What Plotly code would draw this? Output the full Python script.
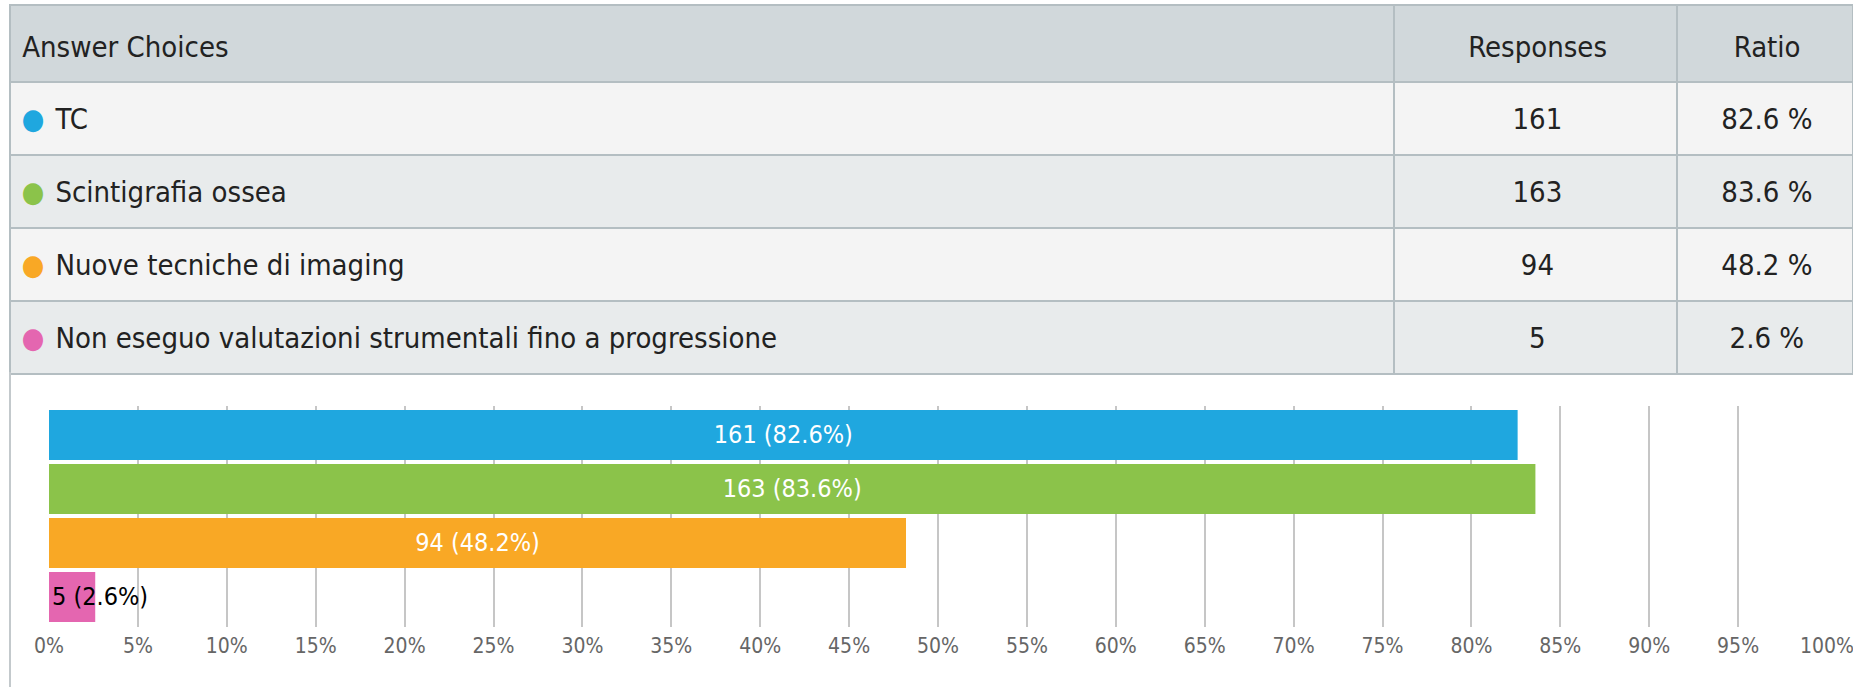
import plotly.graph_objects as go

# ---- data ----
choices = ["TC", "Scintigrafia ossea", "Nuove tecniche di imaging",
           "Non eseguo valutazioni strumentali fino a progressione"]
responses = [161, 163, 94, 5]
ratios = [82.6, 83.6, 48.2, 2.6]
header_labels = ["Answer Choices", "Responses", "Ratio"]
x_ticks = list(range(0, 101, 5))

# ---- styles ----
bar_colors = ["#1fa7df", "#8bc34a", "#f9a825", "#e466b0"]
label_colors = ["white", "white", "white", "black"]
label_anchor = ["middle", "middle", "middle", "start"]
W, H = 1853, 687
TABLE_FONT = "DejaVu Sans Condensed, DejaVu Sans, sans-serif"
CHART_FONT = "DejaVu Sans Condensed, DejaVu Sans, sans-serif"
TXT = 29  # visible table text size (px)


def cell(t, strut):
    # a hair-space "strut" in a larger font pushes the text down to mid-row;
    # the trailing <br> stops the table from re-wrapping the markup
    return (f'<span style="font-size:{strut}px">\u200a</span>'
            f'<span style="font-size:{TXT}px">{t}</span><br>')


fig = go.Figure()

# ---- table ----
col0 = [cell(f'<span style="color:{c}">●</span>\u200a {t}', 42)
        for c, t in zip(bar_colors, choices)]
col1 = [cell(str(r), 42) for r in responses]
col2 = [cell(f"{p} %", 42) for p in ratios]
row_fill = ["#f4f4f4" if i % 2 == 0 else "#e8ebec" for i in range(len(choices))]

fig.add_trace(go.Table(
    domain=dict(x=[10 / W, 1], y=[1 - 380 / H, 1 - 5 / H]),
    columnwidth=[1384, 283, 176],
    header=dict(values=[cell(h, 47) for h in header_labels], height=77,
                fill_color="#d1d8db", line=dict(color="#b4bec2", width=2),
                align=["left", "center", "center"],
                font=dict(family=TABLE_FONT, size=TXT, color="#222222")),
    cells=dict(values=[col0, col1, col2], height=73,
               fill_color=[row_fill] * 3, line=dict(color="#b4bec2", width=2),
               align=["left", "center", "center"],
               font=dict(family=TABLE_FONT, size=TXT, color="#222222")),
))

# ---- bars ----
for i in range(len(choices)):
    fig.add_trace(go.Bar(
        x=[ratios[i]], y=[choices[i]], orientation="h",
        marker=dict(color=bar_colors[i], line=dict(width=0)),
        text=[f"{responses[i]} ({ratios[i]}%)"],
        textposition="inside", insidetextanchor=label_anchor[i],
        constraintext="none", textangle=0,
        textfont=dict(family=CHART_FONT, size=25, color=label_colors[i]),
        showlegend=False, hoverinfo="skip",
    ))

fig.update_layout(
    width=W, height=H,
    margin=dict(l=0, r=0, t=0, b=0, pad=0, autoexpand=False),
    paper_bgcolor="white", plot_bgcolor="white",
    barmode="overlay", bargap=0.074,
    xaxis=dict(domain=[49 / W, 1827 / W], range=[0, 100],
               tickvals=x_ticks, ticktext=[f"{v}%" for v in x_ticks],
               showgrid=True, gridcolor="#c6c6c6", gridwidth=1.5,
               zeroline=False, showline=False, ticks="",
               ticklabeloverflow="allow", ticklabelstandoff=4,
               tickfont=dict(family=CHART_FONT, size=21, color="#666666"),
               fixedrange=True),
    yaxis=dict(domain=[1 - 627 / H, 1 - 406 / H], categoryorder="array",
               categoryarray=choices, range=[3.556, -0.537],
               showticklabels=False, showgrid=False, zeroline=False,
               fixedrange=True),
    shapes=[dict(type="line", xref="paper", yref="paper",
                 x0=10 / W, x1=10 / W, y0=0, y1=1 - 372 / H,
                 line=dict(color="#c3c9cc", width=2))],
)

fig.write_html("out.html", config={"displayModeBar": False},
               post_script="document.body.style.margin='0px';"
                           "document.body.style.overflow='hidden';")
